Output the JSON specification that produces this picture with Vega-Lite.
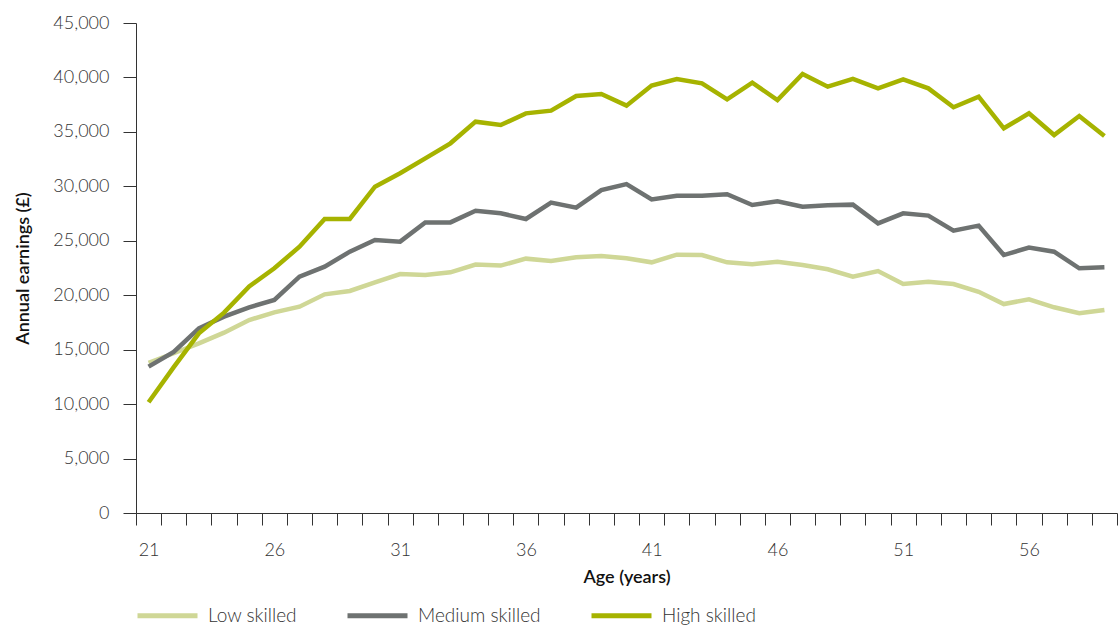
{
  "$schema": "https://vega.github.io/schema/vega-lite/v6.json",
  "width": 981,
  "height": 490,
  "autosize": {"type": "none"},
  "padding": {"left": 136, "top": 23, "right": 1, "bottom": 112},
  "background": "white",
  "config": {
    "view": {"stroke": null},
    "font": "Lato",
    "axis": {"grid": false, "domainColor": "#333333", "tickColor": "#333333", "labelColor": "#333333", "titleColor": "#111111", "labelFont": "Lato", "titleFont": "Lato", "labelFontSize": 18, "titleFontSize": 18, "titleFontWeight": 600, "labelFontWeight": 300}
  },
  "data": {
    "values": [
      {"age": 21, "Low skilled": 13800, "Medium skilled": 13440, "High skilled": 10170},
      {"age": 22, "Low skilled": 14670, "Medium skilled": 14800, "High skilled": 13400},
      {"age": 23, "Low skilled": 15580, "Medium skilled": 16960, "High skilled": 16500},
      {"age": 24, "Low skilled": 16560, "Medium skilled": 18030, "High skilled": 18400},
      {"age": 25, "Low skilled": 17720, "Medium skilled": 18890, "High skilled": 20800},
      {"age": 26, "Low skilled": 18430, "Medium skilled": 19560, "High skilled": 22470},
      {"age": 27, "Low skilled": 18950, "Medium skilled": 21700, "High skilled": 24460},
      {"age": 28, "Low skilled": 20080, "Medium skilled": 22620, "High skilled": 27000},
      {"age": 29, "Low skilled": 20390, "Medium skilled": 24000, "High skilled": 27000},
      {"age": 30, "Low skilled": 21190, "Medium skilled": 25070, "High skilled": 29970},
      {"age": 31, "Low skilled": 21950, "Medium skilled": 24920, "High skilled": 31200},
      {"age": 32, "Low skilled": 21860, "Medium skilled": 26690, "High skilled": 32570},
      {"age": 33, "Low skilled": 22100, "Medium skilled": 26690, "High skilled": 33950},
      {"age": 34, "Low skilled": 22810, "Medium skilled": 27760, "High skilled": 35940},
      {"age": 35, "Low skilled": 22720, "Medium skilled": 27520, "High skilled": 35630},
      {"age": 36, "Low skilled": 23360, "Medium skilled": 27000, "High skilled": 36700},
      {"age": 37, "Low skilled": 23140, "Medium skilled": 28500, "High skilled": 36950},
      {"age": 38, "Low skilled": 23480, "Medium skilled": 28040, "High skilled": 38300},
      {"age": 39, "Low skilled": 23600, "Medium skilled": 29660, "High skilled": 38480},
      {"age": 40, "Low skilled": 23390, "Medium skilled": 30210, "High skilled": 37410},
      {"age": 41, "Low skilled": 23020, "Medium skilled": 28800, "High skilled": 39250},
      {"age": 42, "Low skilled": 23720, "Medium skilled": 29140, "High skilled": 39860},
      {"age": 43, "Low skilled": 23690, "Medium skilled": 29140, "High skilled": 39460},
      {"age": 44, "Low skilled": 23020, "Medium skilled": 29270, "High skilled": 37990},
      {"age": 45, "Low skilled": 22840, "Medium skilled": 28290, "High skilled": 39520},
      {"age": 46, "Low skilled": 23080, "Medium skilled": 28620, "High skilled": 37930},
      {"age": 47, "Low skilled": 22780, "Medium skilled": 28130, "High skilled": 40320},
      {"age": 48, "Low skilled": 22380, "Medium skilled": 28260, "High skilled": 39150},
      {"age": 49, "Low skilled": 21700, "Medium skilled": 28320, "High skilled": 39860},
      {"age": 50, "Low skilled": 22220, "Medium skilled": 26600, "High skilled": 39000},
      {"age": 51, "Low skilled": 21030, "Medium skilled": 27520, "High skilled": 39830},
      {"age": 52, "Low skilled": 21240, "Medium skilled": 27310, "High skilled": 39000},
      {"age": 53, "Low skilled": 21030, "Medium skilled": 25930, "High skilled": 37260},
      {"age": 54, "Low skilled": 20320, "Medium skilled": 26390, "High skilled": 38230},
      {"age": 55, "Low skilled": 19190, "Medium skilled": 23690, "High skilled": 35330},
      {"age": 56, "Low skilled": 19620, "Medium skilled": 24370, "High skilled": 36700},
      {"age": 57, "Low skilled": 18890, "Medium skilled": 24000, "High skilled": 34710},
      {"age": 58, "Low skilled": 18340, "Medium skilled": 22470, "High skilled": 36460},
      {"age": 59, "Low skilled": 18640, "Medium skilled": 22560, "High skilled": 34620}
    ]
  },
  "transform": [
    {"fold": ["Low skilled", "Medium skilled", "High skilled"], "as": ["group", "earnings"]}
  ],
  "mark": {"type": "line", "strokeWidth": 4.5, "interpolate": "linear"},
  "encoding": {
    "x": {
      "field": "age", "type": "ordinal",
      "bandPosition": 0.5,
      "scale": {"type": "band", "paddingInner": 0, "paddingOuter": 0},
      "axis": {
        "title": "Age (years)",
        "labelAngle": 0,
        "tickBand": "extent",
        "tickSize": 12,
        "labelPadding": 16,
        "titlePadding": 9,
        "labelExpr": "(datum.value - 21) % 5 == 0 ? datum.label : ''"
      }
    },
    "y": {
      "field": "earnings", "type": "quantitative",
      "scale": {"domain": [0, 45000], "nice": false},
      "axis": {
        "title": "Annual earnings (£)",
        "values": [0, 5000, 10000, 15000, 20000, 25000, 30000, 35000, 40000, 45000],
        "format": ",.0f",
        "tickSize": 13,
        "labelPadding": 14,
        "titlePadding": 20
      }
    },
    "color": {
      "field": "group", "type": "nominal",
      "scale": {"domain": ["Low skilled", "Medium skilled", "High skilled"], "range": ["#cfd796", "#6e7271", "#a6b300"]},
      "legend": {
        "title": null,
        "orient": "none",
        "legendX": -1,
        "legendY": 560,
        "padding": 0,
        "direction": "horizontal",
        "symbolType": "stroke",
        "symbolSize": 3600,
        "symbolStrokeWidth": 5,
        "labelFont": "Lato",
        "labelFontSize": 19,
        "labelFontWeight": 300,
        "labelColor": "#333333",
        "labelOffset": 8,
        "columnPadding": 40
      }
    }
  }
}
